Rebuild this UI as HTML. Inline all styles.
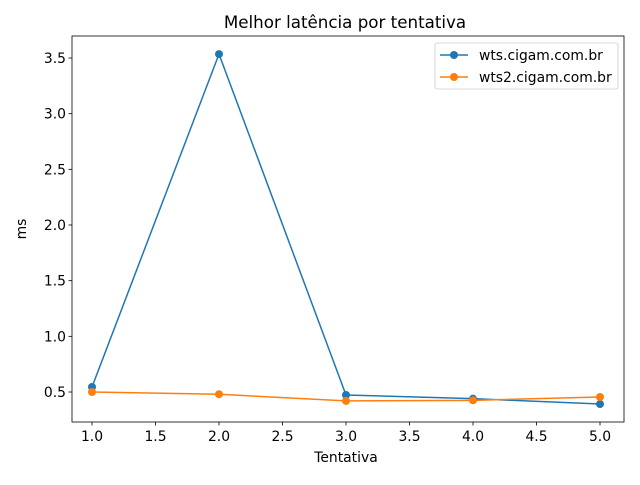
<!DOCTYPE html>
<html><head><meta charset="utf-8"><style>
html,body{margin:0;padding:0;background:#fff;}
svg text{font-family:"DejaVu Sans","Liberation Sans",sans-serif;}
</style></head><body>
<svg id="chart" width="640" height="480" xmlns="http://www.w3.org/2000/svg">
<rect width="640" height="480" fill="#fff"/>
<text x="345" y="28" font-size="16.7" text-anchor="middle" fill="#000">Melhor latência por tentativa</text>
<g id="plot"></g>
<rect x="72" y="36" width="552" height="386" fill="none" stroke="#000" stroke-width="0.8"/>
<text x="346" y="462" font-size="13.9" text-anchor="middle">Tentativa</text>
<text x="26" y="229" font-size="13.9" text-anchor="middle" transform="rotate(-90 26 229)">ms</text>
<g>
<rect x="435" y="43" width="183" height="46" rx="2" fill="#fff" fill-opacity="0.8" stroke="#ccc" stroke-width="0.8"/>
<line x1="440" y1="55" x2="468" y2="55" stroke="#1f77b4" stroke-width="1.5"/>
<circle cx="454" cy="55" r="4" fill="#1f77b4"/>
<text x="479" y="60" font-size="13.9">wts.cigam.com.br</text>
<line x1="440" y1="77" x2="468" y2="77" stroke="#ff7f0e" stroke-width="1.5"/>
<circle cx="454" cy="77" r="4" fill="#ff7f0e"/>
<text x="479" y="82" font-size="13.9">wts2.cigam.com.br</text>
</g>
</svg>
<script>
const categories = [1, 2, 3, 4, 5];
const seriesWts = [0.545, 3.535, 0.473, 0.44, 0.392];
const seriesWts2 = [0.50, 0.48, 0.42, 0.425, 0.455];
const xTicks = [1.0, 1.5, 2.0, 2.5, 3.0, 3.5, 4.0, 4.5, 5.0];
const yTicks = [0.5, 1.0, 1.5, 2.0, 2.5, 3.0, 3.5];

const NS = "http://www.w3.org/2000/svg";
function xs(v){ return 92 + (v - 1) * 127; }
function ys(v){ return 392 - (v - 0.5) * 111.333; }
const g = document.getElementById('plot');
function mk(tag, attrs){ const e = document.createElementNS(NS, tag); for (const k in attrs) e.setAttribute(k, attrs[k]); g.appendChild(e); return e; }

xTicks.forEach(t => {
  const x = xs(t);
  const l = mk('line', {x1:x, y1:422, x2:x, y2:425.5, stroke:'#000', 'stroke-width':0.8});
  
  
  const tx = mk('text', {x:x, y:441, 'font-size':13.9, 'text-anchor':'middle'});
  tx.textContent = t.toFixed(1);
  
  
});
yTicks.forEach(t => {
  const y = ys(t);
  const l = mk('line', {x1:68.5, y1:y, x2:72, y2:y, stroke:'#000', 'stroke-width':0.8});
  
  
  const tx = mk('text', {x:66, y:y + 5, 'font-size':13.9, 'text-anchor':'end'});
  tx.textContent = t.toFixed(1);
  
  
});

function drawSeries(vals, color, name){
  const pts = categories.map((c, i) => xs(c) + ',' + ys(vals[i])).join(' ');
  const pl = mk('polyline', {points:pts, fill:'none', stroke:color, 'stroke-width':1.5});
  
  
  categories.forEach((c, i) => {
    const p = mk('circle', {cx:xs(c), cy:ys(vals[i]), r:4, fill:color});
    
    
  });
}
drawSeries(seriesWts, '#1f77b4', 'wts');
drawSeries(seriesWts2, '#ff7f0e', 'wts2');
</script>
</body></html>
